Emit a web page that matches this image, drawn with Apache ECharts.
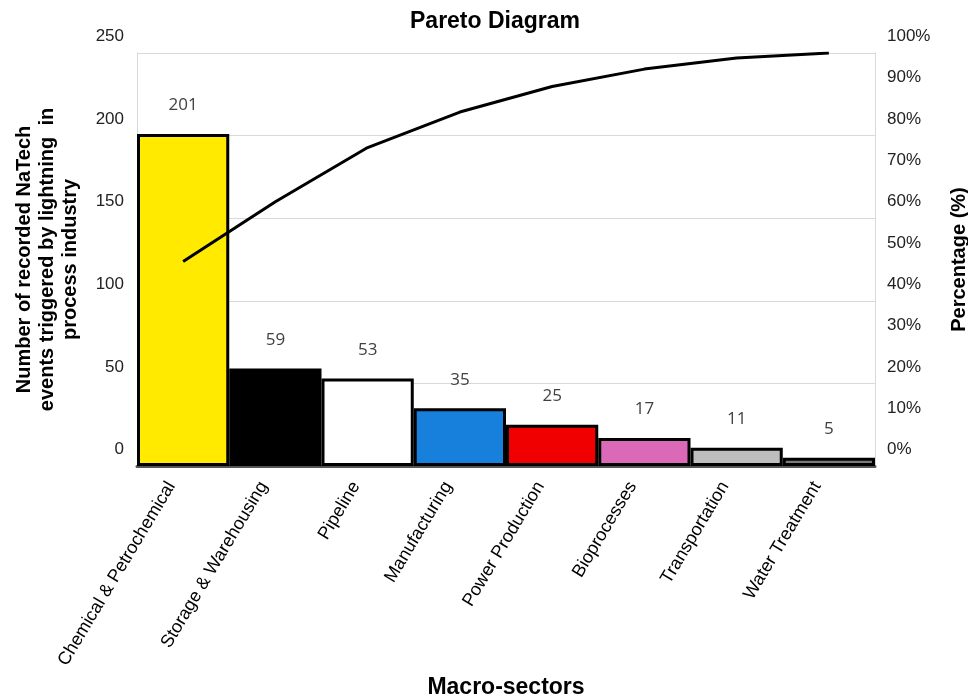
<!DOCTYPE html>
<html>
<head>
<meta charset="utf-8">
<script src="https://cdn.jsdelivr.net/npm/echarts@6/dist/echarts.min.js"></script>
<style>
  html, body { margin: 0; padding: 0; background: #fff; }
  #chart { width: 968px; height: 699px; }
</style>
</head>
<body>
<div id="chart"></div>
<script>
// Macro-sectors and number of recorded NaTech events
const sectors = ['Chemical & Petrochemical', 'Storage & Warehousing', 'Pipeline', 'Manufacturing',
  'Power Production', 'Bioprocesses', 'Transportation', 'Water Treatment'];
const events = [201, 59, 53, 35, 25, 17, 11, 5];
// Cumulative share of events (%)
const cumulativePct = [49.5, 64.0, 77.1, 85.7, 91.9, 96.1, 98.8, 100];
const barColors = ['#FFEA00', '#000000', '#FFFFFF', '#1780DC', '#F00000', '#DA6AB8', '#BEBEBE', '#7A7A7A'];

const chart = echarts.init(document.getElementById('chart'), null, { renderer: 'canvas' });
const font = 'Liberation Sans, Arial, sans-serif';

chart.setOption({
  animation: false,
  title: {
    text: 'Pareto Diagram',
    left: 490, top: 5,
    textAlign: 'center',
    textStyle: { fontFamily: font, fontSize: 23, fontWeight: 'bold', color: '#000' }
  },
  grid: { left: 137, right: 93, top: 53, bottom: 233, containLabel: false, outerBoundsMode: 'none' },
  xAxis: {
    type: 'category',
    data: sectors,
    name: 'Macro-sectors',
    nameLocation: 'middle',
    nameGap: 209,
    nameTextStyle: { fontFamily: font, fontSize: 23, fontWeight: 'bold', color: '#000' },
    axisLine: { lineStyle: { color: '#555', width: 3 } },
    axisTick: { show: false },
    axisLabel: { rotate: 59, fontFamily: font, fontSize: 18, color: '#000', margin: 15, interval: 0,
      verticalAlign: 'bottom', padding: [0, 8, 0, 0] }
  },
  yAxis: [
    {
      type: 'value', min: 0, max: 250, interval: 50,
      name: 'Number of recorded NaTech\nevents triggered by lightning  in\nprocess industry',
      nameLocation: 'middle',
      nameGap: 55,
      nameRotate: 90,
      nameTextStyle: { fontFamily: font, fontSize: 20, fontWeight: 'bold', color: '#000', lineHeight: 23 },
      axisLine: { show: true, lineStyle: { color: '#d9d9d9', width: 1 } },
      axisTick: { show: false },
      splitLine: { lineStyle: { color: '#d9d9d9', width: 1 } },
      axisLabel: { fontFamily: font, fontSize: 17, color: '#222', margin: 13,
        verticalAlign: 'bottom', padding: [0, 0, 8, 0] }
    },
    {
      type: 'value', min: 0, max: 100, interval: 10,
      name: 'Percentage (%)',
      nameLocation: 'middle',
      nameGap: 74,
      nameRotate: 90,
      nameTextStyle: { fontFamily: font, fontSize: 20, fontWeight: 'bold', color: '#000' },
      axisLine: { show: true, lineStyle: { color: '#d9d9d9', width: 1 } },
      axisTick: { show: false },
      splitLine: { show: false },
      axisLabel: { fontFamily: font, fontSize: 17, color: '#222', margin: 12,
        formatter: '{value}%', verticalAlign: 'bottom', padding: [0, 0, 8, 0] }
    }
  ],
  series: [
    {
      type: 'bar',
      data: events.map((v, i) => ({
        value: v,
        itemStyle: { color: barColors[i] }
      })),
      barCategoryGap: '0%',
      itemStyle: { borderColor: '#000', borderWidth: 3 },
      label: {
        show: true, position: 'top', distance: 20,
        fontFamily: 'Open Sans, sans-serif', fontSize: 17, color: '#404040'
      },
      z: 2
    },
    {
      type: 'line',
      yAxisIndex: 1,
      data: cumulativePct,
      showSymbol: false,
      lineStyle: { color: '#000', width: 3 },
      z: 3
    }
  ]
});
</script>
</body>
</html>
